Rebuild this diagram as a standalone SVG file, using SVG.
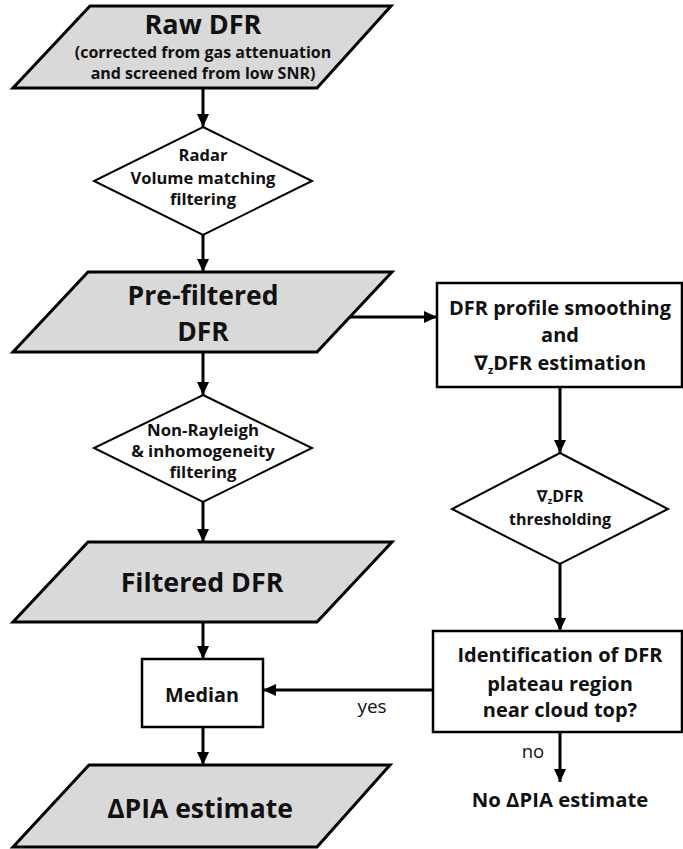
<svg xmlns="http://www.w3.org/2000/svg" width="683" height="849" viewBox="0 0 683 849">
<defs>
<marker id="ah" markerUnits="userSpaceOnUse" markerWidth="13" markerHeight="12" refX="13" refY="6" orient="auto">
<path d="M0,0 L13,6 L0,12 z" fill="#000"/>
</marker>
<style>
.para{fill:#d9d9d9;stroke:#000;stroke-width:3;stroke-linejoin:miter}
.dia{fill:#fff;stroke:#000;stroke-width:2}
.box{fill:#fff;stroke:#000;stroke-width:2.5}
.t{font-family:"Open Sans","DejaVu Sans",sans-serif;font-weight:bold;fill:#111;text-anchor:middle}
.n{font-family:"Open Sans","DejaVu Sans",sans-serif;font-weight:normal;fill:#111;text-anchor:middle}
.big{font-size:26.5px}
.mid{font-size:20px}
.conn line{stroke:#000;stroke-width:3;marker-end:url(#ah)}
</style>
</defs>
<rect width="683" height="849" fill="#fff"/>
<g id="raw">
<polygon class="para" points="90,6 391,6 317,88 13,88"/>
<text class="t" x="203" y="34" font-size="27">Raw DFR</text>
<text class="t" font-size="16"><tspan x="203" y="58">(corrected from gas attenuation</tspan><tspan x="203" y="79">and screened from low SNR)</tspan></text>
</g>
<g id="radar">
<polygon class="dia" points="203,127 312,181 203,235 94,181"/>
<text class="t" font-size="16.5"><tspan x="203" y="161">Radar</tspan><tspan x="203" y="184">Volume matching</tspan><tspan x="203" y="205">filtering</tspan></text>
</g>
<g id="prefiltered">
<polygon class="para" points="88,272 392,272 317,352 13,352"/>
<text class="t big"><tspan x="203" y="305">Pre-filtered</tspan><tspan x="203" y="341">DFR</tspan></text>
</g>
<g id="smoothing">
<rect class="box" x="437" y="283" width="245" height="104"/>
<text class="t mid"><tspan x="560" y="315">DFR profile smoothing</tspan><tspan x="560" y="342">and</tspan><tspan x="560" y="370">∇<tspan font-size="11" dy="4">z</tspan><tspan dy="-4">DFR estimation</tspan></tspan></text>
</g>
<g id="nonrayleigh">
<polygon class="dia" points="203,395 312,448 203,502 94,448"/>
<text class="t" font-size="16.8"><tspan x="203" y="436">Non-Rayleigh</tspan><tspan x="203" y="457">&amp; inhomogeneity</tspan><tspan x="203" y="478">filtering</tspan></text>
</g>
<g id="thresholding">
<polygon class="dia" points="560,453 668,509 560,564 452,509"/>
<text class="t" font-size="16"><tspan x="560" y="502">∇<tspan font-size="9.5" dy="2">z</tspan><tspan dy="-2">DFR</tspan></tspan><tspan x="560" y="525">thresholding</tspan></text>
</g>
<g id="filtered">
<polygon class="para" points="88,542 392,542 317,622 13,622"/>
<text class="t" x="202" y="592" font-size="26.8">Filtered DFR</text>
</g>
<g id="identification">
<rect class="box" x="433" y="631" width="249" height="101"/>
<text class="t mid"><tspan x="560" y="662">Identification of DFR</tspan><tspan x="560" y="691">plateau region</tspan><tspan x="560" y="717">near cloud top?</tspan></text>
</g>
<g id="median">
<rect class="box" x="142" y="659" width="121" height="68"/>
<text class="t" x="202" y="702" font-size="19.8">Median</text>
</g>
<g id="dpia">
<polygon class="para" points="89,765 390,765 317,847 13,847"/>
<text class="t big" x="200" y="818">ΔPIA estimate</text>
</g>
<g id="nodpia">
<text class="t" x="560" y="807" font-size="20.3">No ΔPIA estimate</text>
</g>
<g id="connectors" class="conn">
<line x1="203" y1="88" x2="203" y2="127"/>
<line x1="203" y1="235" x2="203" y2="272"/>
<line x1="350" y1="317" x2="437" y2="317"/>
<line x1="560" y1="387" x2="560" y2="453"/>
<line x1="560" y1="564" x2="560" y2="631"/>
<line x1="203" y1="352" x2="203" y2="395"/>
<line x1="203" y1="502" x2="203" y2="542"/>
<line x1="203" y1="622" x2="203" y2="659"/>
<line x1="203" y1="727" x2="203" y2="765"/>
<line x1="433" y1="690" x2="263" y2="690"/>
<line x1="560" y1="732" x2="560" y2="782"/>
<text class="n" x="372" y="713" font-size="19">yes</text>
<text class="n" x="533" y="758" font-size="18.5">no</text>
</g>
</svg>
